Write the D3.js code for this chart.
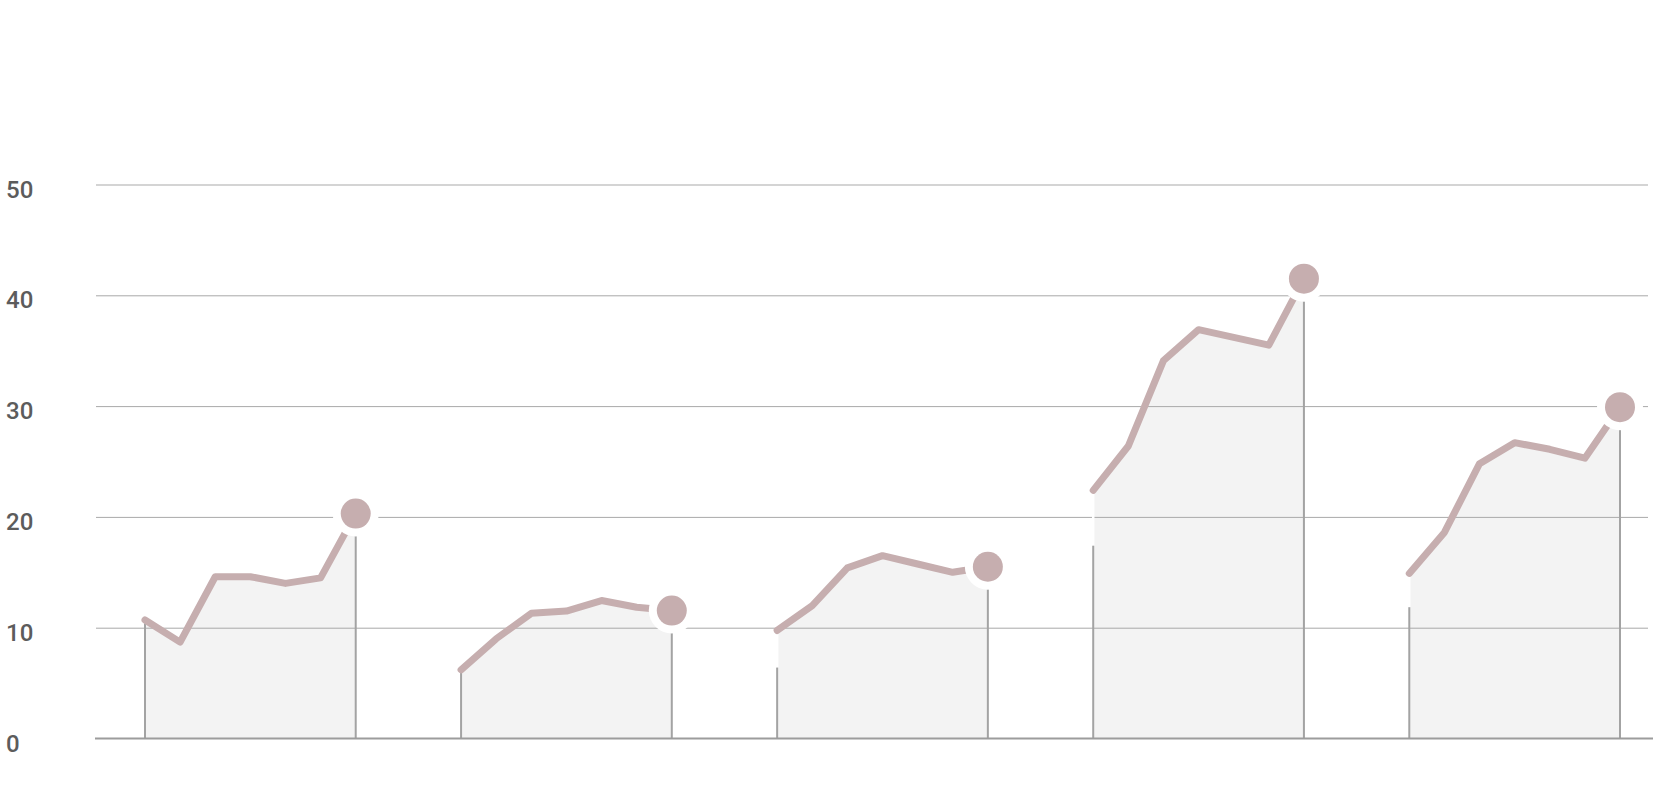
<!DOCTYPE html>
<html lang="en">
<head>
<meta charset="utf-8">
<title>Grouped area lines</title>
<style>
   html,body { margin:0; padding:0; background:#fff; }
   .tick-label { font:500 24px Roboto, sans-serif; fill:#5c5c5c; }
</style>
<script src="https://d3js.org/d3.v7.min.js"></script>
</head>
<body>
<script>
// values, one array per group (7 points each)
let group1 = [10.7, 8.7, 14.6, 14.6, 14.0, 14.5, 20.3];
let group2 = [6.2, 9.0, 11.3, 11.5, 12.45, 11.85, 11.55];
let group3 = [9.75, 12.0, 15.4, 16.5, 15.75, 15.0, 15.5];
let group4 = [22.4, 26.4, 34.1, 36.9, 36.2, 35.5, 41.5];
let group5 = [14.9, 18.6, 24.8, 26.7, 26.1, 25.3, 29.9];
let groups = [group1, group2, group3, group4, group5];
// height of the left drop line of each group
let dropStarts = [10.4, 6.0, 6.4, 17.4, 11.85];
let yTicks = [0, 10, 20, 30, 40, 50];
let gap = 3; // empty steps between groups

let width = 1660, height = 790;
let margin = {top:184, right:12, bottom:52, left:96};
let perGroup = group1.length;
let step = perGroup - 1 + gap;
let lastIdx = (groups.length-1)*step + perGroup - 1;

let x = d3.scaleLinear()
   .domain([0, lastIdx])
   .range([145, 1620]);
let y = d3.scaleLinear()
   .domain([0, 50])
   .range([738.5, 184.5]);

const svg = d3.select('body').append('svg')
   .attr('width', width)
   .attr('height', height)
   .attr('viewBox', [0, 0, width, height]);

let lineColor = '#c6aeaf';

// area fills
let area = d3.area()
   .x(d => x(d.i))
   .y0(y(0))
   .y1(d => y(d.v));
let line = d3.line()
   .x(d => x(d.i))
   .y(d => y(d.v));

let data = groups.map((g,gi) => g.map((v,k) => ({i: gi*step + k, v: v})));

svg.append('g').attr('class','areas')
   .selectAll('path')
   .data(data)
   .join('path')
   .attr('d', area)
   .attr('fill', '#f3f3f3');

// grid lines
let yAxis = d3.axisLeft(y)
   .tickValues(yTicks)
   .tickSize(-(1648 - margin.left))
   .tickFormat('');
svg.append('g')
   .attr('class','grid')
   .attr('transform', `translate(${margin.left},0)`)
   .call(yAxis)
   .call(g => g.select('.domain').remove())
   .call(g => g.selectAll('line').attr('stroke','#a9a9a9').attr('stroke-width',1))
   .call(g => g.selectAll('.tick').filter(d => d===0).remove());

// tick labels
svg.append('g')
   .selectAll('text')
   .data(yTicks)
   .join('text')
   .attr('class','tick-label')
   .attr('x', 6)
   .attr('y', d => y(d) + 13)
   .text(d => d);

// left drop lines with white link up to the first point
let drops = svg.append('g').attr('class','drops');
drops.selectAll('line.white')
   .data(data)
   .join('line')
   .attr('class','white')
   .attr('x1', d => x(d[0].i)).attr('x2', d => x(d[0].i))
   .attr('y1', (d,gi) => y(dropStarts[gi]))
   .attr('y2', d => y(d[0].v))
   .attr('stroke','#fff')
   .attr('stroke-width',2.5);
drops.selectAll('line.left')
   .data(data)
   .join('line')
   .attr('class','left')
   .attr('x1', d => x(d[0].i)).attr('x2', d => x(d[0].i))
   .attr('y1', y(0))
   .attr('y2', (d,gi) => y(dropStarts[gi]))
   .attr('stroke','#a3a3a3')
   .attr('stroke-width',2);
drops.selectAll('line.right')
   .data(data)
   .join('line')
   .attr('class','right')
   .attr('x1', d => x(d[d.length-1].i)).attr('x2', d => x(d[d.length-1].i))
   .attr('y1', y(0))
   .attr('y2', d => y(d[d.length-1].v))
   .attr('stroke','#a3a3a3')
   .attr('stroke-width',2);

// baseline
svg.append('line')
   .attr('x1', 95).attr('x2', 1653)
   .attr('y1', y(0)).attr('y2', y(0))
   .attr('stroke','#9c9c9c')
   .attr('stroke-width',2);

// lines
svg.append('g').attr('class','lines')
   .selectAll('path')
   .data(data)
   .join('path')
   .attr('d', line)
   .attr('fill','none')
   .attr('stroke', lineColor)
   .attr('stroke-width', 7)
   .attr('stroke-linecap','round')
   .attr('stroke-linejoin','round');

// end dots with white halo
let ends = data.map(d => d[d.length-1]);
svg.append('g').attr('class','halos')
   .selectAll('circle')
   .data(ends)
   .join('circle')
   .attr('cx', d => x(d.i))
   .attr('cy', d => y(d.v))
   .attr('r', 23)
   .attr('fill','#fff');
svg.append('g').attr('class','dots')
   .selectAll('circle')
   .data(ends)
   .join('circle')
   .attr('cx', d => x(d.i))
   .attr('cy', d => y(d.v))
   .attr('r', 15)
   .attr('fill', lineColor);
</script>
</body>
</html>
